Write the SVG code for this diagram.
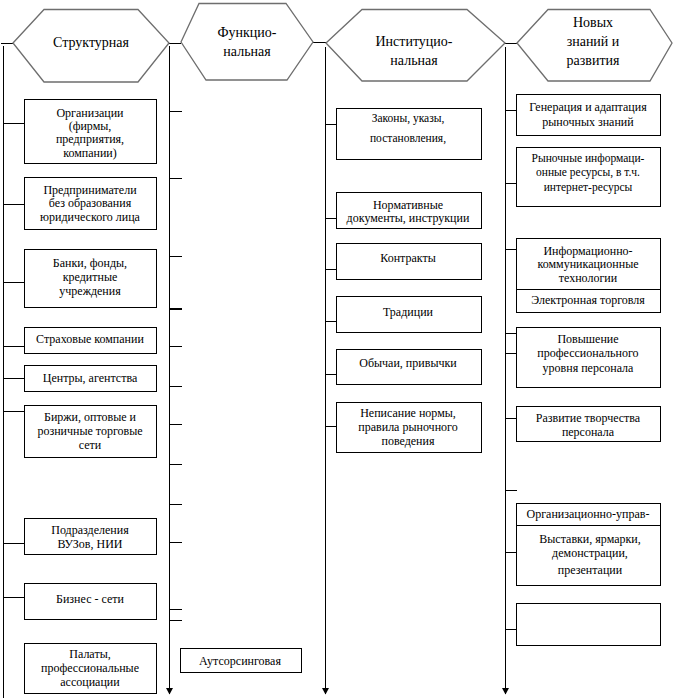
<svg xmlns="http://www.w3.org/2000/svg" width="677" height="698" viewBox="0 0 677 698">
<defs>
<style>
.hex{fill:#fff;stroke:#6e6e6e;stroke-width:1.3}
.box{fill:#fff;stroke:#000;stroke-width:1}
.ln{stroke:#000;stroke-width:1;fill:none}
.t text{font-size:12px;fill:#000;text-anchor:middle}
.t .ht{font-size:14px}
.t .sm{font-size:11.5px}
</style>
<marker id="arrd" markerUnits="userSpaceOnUse" markerWidth="8" markerHeight="8" refX="4" refY="7" orient="0" viewBox="0 0 8 8">
<path d="M0.5,1 L7.5,1 L4,7.5 Z" fill="#000"/>
</marker>
</defs>

<g id="connectors">
<line class="ln" x1="1" y1="43.5" x2="13" y2="43.5"/>
<line class="ln" x1="169" y1="43.5" x2="181" y2="43.5"/>
<line class="ln" x1="313" y1="42.5" x2="326" y2="42.5"/>
<line class="ln" x1="505" y1="43.5" x2="517" y2="43.5"/>
<line class="ln" x1="3.5" y1="46" x2="3.5" y2="698"/>
<line class="ln" x1="169.5" y1="46" x2="169.5" y2="694" marker-end="url(#arrd)"/>
<line class="ln" x1="325.5" y1="47" x2="325.5" y2="694" marker-end="url(#arrd)"/>
<line class="ln" x1="505.5" y1="47" x2="505.5" y2="694" marker-end="url(#arrd)"/>
<path class="ln" d="M3,123.5H24 M3,204.5H24 M3,282.5H24 M3,346.5H24 M3,378.5H24 M3,411.5H24 M3,543.5H24 M3,597.5H24"/>
<path class="ln" d="M169,111.5H182 M169,178.5H182 M169,256.5H182 M169,346.5H182 M169,386.5H182 M169,424.5H182 M169,464.5H182 M169,504.5H182 M169,542.5H182 M169,609.5H182 M169,620.5H182"/>
<line x1="169" y1="309" x2="182" y2="309" stroke="#000" stroke-width="2"/>
<path class="ln" d="M325,124.5H336 M325,218.5H336 M325,269.5H336 M325,321.5H336 M325,374.5H336 M325,426.5H336"/>
<path class="ln" d="M505,110.5H517 M505,183.5H517 M505,249.5H517 M505,333.5H517 M505,353.5H517 M505,418.5H517 M505,490.5H517 M505,552.5H517 M505,629.5H517"/>
</g>

<g class="t" font-family="Liberation Serif, Times New Roman, Times, serif">
<g id="hex-structural">
<polygon class="hex" points="13,43 44,9.5 138,9.5 169,43 138,82 44,82"/>
<text class="ht" x="91" y="47">Структурная</text>
</g>
<g id="hex-functional">
<polygon class="hex" points="181,42 199,3.5 286,3.5 313,42 287,80 206,80"/>
<text class="ht" x="247" y="37">Функцио-</text>
<text class="ht" x="247" y="56">нальная</text>
</g>
<g id="hex-institutional">
<polygon class="hex" points="326,43 362,9.5 467,9.5 505,43 467,81 362,81"/>
<text class="ht" x="414" y="46">Институцио-</text>
<text class="ht" x="414" y="65">нальная</text>
</g>
<g id="hex-knowledge">
<polygon class="hex" points="517,43 548,9.5 650,9.5 672,43 650,81 548,81"/>
<text class="ht" x="593" y="27">Новых</text>
<text class="ht" x="593" y="46">знаний и</text>
<text class="ht" x="593" y="65">развития</text>
</g>

<g id="n-org">
<rect class="box" x="24.5" y="99.5" width="132" height="64"/>
<text x="90" y="117">Организации</text>
<text x="90" y="130">(фирмы,</text>
<text x="90" y="143">предприятия,</text>
<text x="90" y="157">компании)</text>
</g>
<g id="n-entrepreneurs">
<rect class="box" x="24.5" y="177.5" width="132" height="52"/>
<text x="90" y="194">Предприниматели</text>
<text x="90" y="207">без образования</text>
<text x="90" y="221">юридического лица</text>
</g>
<g id="n-banks">
<rect class="box" x="24.5" y="249.5" width="132" height="58"/>
<text x="90" y="267">Банки, фонды,</text>
<text x="90" y="281">кредитные</text>
<text x="90" y="295">учреждения</text>
</g>
<g id="n-insurance">
<rect class="box" x="24.5" y="327.5" width="132" height="26"/>
<text x="90" y="343">Страховые компании</text>
</g>
<g id="n-centers">
<rect class="box" x="24.5" y="365.5" width="132" height="26"/>
<text x="90" y="382">Центры, агентства</text>
</g>
<g id="n-exchanges">
<rect class="box" x="24.5" y="405.5" width="132" height="52"/>
<text x="90" y="421">Биржи, оптовые и</text>
<text x="90" y="435">розничные торговые</text>
<text x="90" y="449">сети</text>
</g>
<g id="n-universities">
<rect class="box" x="24.5" y="518.5" width="132" height="36"/>
<text x="90" y="534">Подразделения</text>
<text x="90" y="548">ВУЗов, НИИ</text>
</g>
<g id="n-business">
<rect class="box" x="24.5" y="583.5" width="132" height="36"/>
<text x="90" y="603">Бизнес - сети</text>
</g>
<g id="n-chambers">
<rect class="box" x="24.5" y="643.5" width="132" height="50"/>
<text x="90" y="658">Палаты,</text>
<text x="90" y="672">профессиональные</text>
<text x="90" y="686">ассоциации</text>
</g>
<g id="n-outsourcing">
<rect class="box" x="180.5" y="648.5" width="121" height="24"/>
<text x="240" y="665">Аутсорсинговая</text>
</g>

<g id="n-laws">
<rect class="box" x="336.5" y="108.5" width="145" height="51"/>
<text class="sm" x="408" y="122">Законы, указы,</text>
<text class="sm" x="408" y="142">постановления,</text>
</g>
<g id="n-normative">
<rect class="box" x="336.5" y="192.5" width="145" height="36"/>
<text x="408" y="209">Нормативные</text>
<text x="408" y="222">документы, инструкции</text>
</g>
<g id="n-contracts">
<rect class="box" x="336.5" y="243.5" width="145" height="36"/>
<text x="408" y="262">Контракты</text>
</g>
<g id="n-traditions">
<rect class="box" x="336.5" y="296.5" width="145" height="36"/>
<text x="408" y="316">Традиции</text>
</g>
<g id="n-customs">
<rect class="box" x="336.5" y="349.5" width="145" height="35"/>
<text x="408" y="367">Обычаи, привычки</text>
</g>
<g id="n-unwritten">
<rect class="box" x="336.5" y="402.5" width="145" height="50"/>
<text x="408" y="417">Неписание нормы,</text>
<text x="408" y="431">правила рыночного</text>
<text x="408" y="445">поведения</text>
</g>

<g id="n-generation">
<rect class="box" x="516.5" y="94.5" width="144" height="41"/>
<text x="588" y="111">Генерация и адаптация</text>
<text x="588" y="126">рыночных знаний</text>
</g>
<g id="n-resources">
<rect class="box" x="516.5" y="147.5" width="144" height="59"/>
<text class="sm" x="588" y="162">Рыночные информаци-</text>
<text class="sm" x="588" y="176">онные ресурсы, в т.ч.</text>
<text class="sm" x="588" y="191">интернет-ресурсы</text>
</g>
<g id="n-ict">
<rect class="box" x="516.5" y="238.5" width="144" height="74"/>
<line class="ln" x1="516.5" y1="289.5" x2="660.5" y2="289.5"/>
<text x="588" y="255">Информационно-</text>
<text x="588" y="268">коммуникационные</text>
<text x="588" y="282">технологии</text>
<text x="588" y="304">Электронная торговля</text>
</g>
<g id="n-qualification">
<rect class="box" x="516.5" y="327.5" width="144" height="60"/>
<text x="588" y="343">Повышение</text>
<text x="588" y="357">профессионального</text>
<text x="588" y="372">уровня  персонала</text>
</g>
<g id="n-creativity">
<rect class="box" x="516.5" y="406.5" width="144" height="35"/>
<text x="588" y="422">Развитие творчества</text>
<text x="588" y="436">персонала</text>
</g>
<g id="n-exhibitions">
<rect class="box" x="516.5" y="503.5" width="144" height="82"/>
<line class="ln" x1="516.5" y1="525.5" x2="660.5" y2="525.5"/>
<text x="588" y="518">Организационно-управ-</text>
<text x="590" y="543">Выставки, ярмарки,</text>
<text x="590" y="557">демонстрации,</text>
<text x="590" y="574">презентации</text>
</g>
<g id="n-empty">
<rect class="box" x="516.5" y="603.5" width="144" height="42"/>
</g>
</g>
</svg>
